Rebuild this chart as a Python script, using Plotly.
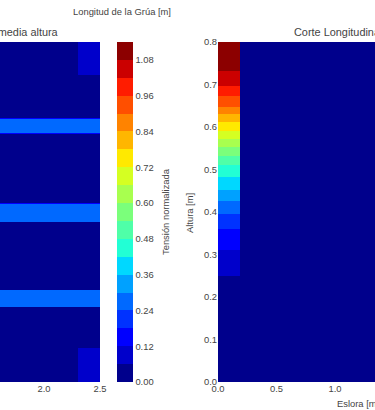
import numpy as np
import plotly.graph_objects as go

# ---------------- data ----------------
# Corte a media altura (plano eslora x manga), tramo visible
eslora_med = [1.5, 2.29, 2.30, 2.5]          # nodos en eslora [m]
refuerzo_y0 = [0.2235, 0.4735, 0.7325]        # inicio de cada franja [m]
refuerzo_y1 = [0.2705, 0.5295, 0.7765]        # fin de cada franja [m]
tension_refuerzo = 0.27
esquina_x0 = 2.295
esquina_inf_y1 = 0.10
esquina_sup_y0 = 0.905
tension_esquina = 0.09

# Corte longitudinal (eslora x altura)
eslora_long = [0.0, 0.18, 0.19, 2.5]
ancho_columna = 0.185
altura_m = [0.0, 0.249, 0.25, 0.275, 0.30, 0.325, 0.35, 0.375, 0.40, 0.425, 0.45,
            0.475, 0.50, 0.525, 0.55, 0.575, 0.60, 0.625, 0.65, 0.675, 0.70,
            0.725, 0.75, 0.775, 0.80]
tension_columna = [0.0, 0.0, 0.065, 0.082, 0.106, 0.133, 0.165, 0.202, 0.244, 0.294,
                   0.355, 0.402, 0.45, 0.512, 0.591, 0.663, 0.742, 0.821, 0.903,
                   0.965, 1.024, 1.072, 1.10, 1.11, 1.12]

# escala de color: 19 niveles de 0.06 entre 0 y 1.14
n_niveles = 19
z_min, z_max = 0.0, 1.14

# ---------------- build grids ----------------
manga = np.round(np.arange(0.0, 1.0 + 1e-9, 0.005), 4)
z_med = np.zeros((len(manga), len(eslora_med)))
for i, yv in enumerate(manga):
    for j, xv in enumerate(eslora_med):
        v = 0.0
        if xv >= esquina_x0 and (yv <= esquina_inf_y1 or yv >= esquina_sup_y0):
            v = tension_esquina
        for a, b in zip(refuerzo_y0, refuerzo_y1):
            if a <= yv <= b:
                v = tension_refuerzo
        z_med[i, j] = v

z_long = np.array([[t if xv <= ancho_columna else 0.0 for xv in eslora_long]
                   for t in tension_columna])

# matplotlib-like jet, discretised in steps
def jet(s):
    r = np.interp(s, [0, 0.35, 0.66, 0.89, 1], [0, 0, 1, 1, 0.5])
    g = np.interp(s, [0, 0.125, 0.375, 0.64, 0.91, 1], [0, 0, 1, 1, 0, 0])
    b = np.interp(s, [0, 0.11, 0.34, 0.65, 1], [0.5, 1, 1, 0, 0])
    return f"rgb({int(round(r*255))},{int(round(g*255))},{int(round(b*255))})"

jet_steps = []
for k in range(n_niveles):
    c = jet((k + 0.2) / (n_niveles - 0.6))
    jet_steps.append([k / n_niveles, c])
    jet_steps.append([(k + 1) / n_niveles, c])

W, H = 375, 410
def px(x):
    return x / W
def py(y):
    return 1 - y / H

FONT = "Liberation Sans, Arial, sans-serif"
FS = 9.4

fig = go.Figure()
fig.add_trace(go.Heatmap(
    x=eslora_med, y=manga, z=z_med, xaxis="x", yaxis="y",
    colorscale=jet_steps, zmin=z_min, zmax=z_max, zsmooth="best",
    colorbar=dict(
        x=px(117), xanchor="left", xpad=0,
        y=py(212), yanchor="middle", ypad=0,
        len=340, lenmode="pixels", thickness=15.6, thicknessmode="pixels",
        outlinewidth=0, tick0=0, dtick=0.12, tickformat=".2f", ticks="",
        tickfont=dict(size=FS, color="#444", family=FONT),
    ),
))
fig.add_trace(go.Heatmap(
    x=eslora_long, y=altura_m, z=z_long, xaxis="x2", yaxis="y2",
    colorscale=jet_steps, zmin=z_min, zmax=z_max, zsmooth="best",
    showscale=False,
))

ydom = [py(382), py(42)]
fig.update_layout(
    template="none",
    width=W, height=H,
    margin=dict(l=0, r=0, t=0, b=0),
    paper_bgcolor="white", plot_bgcolor="white",
    font=dict(family=FONT, size=FS, color="#444"),
    showlegend=False,
    xaxis=dict(domain=[0, px(100)], range=[2.5 - 100 / 112, 2.5], tick0=0,
               dtick=0.5, tickformat=".1f", showgrid=False, zeroline=False,
               automargin=False, ticks="", tickfont=dict(size=FS)),
    yaxis=dict(domain=ydom, range=[0, 1.0], visible=False, automargin=False),
    xaxis2=dict(domain=[px(218), 1], range=[0, (375 - 218) / 117], tick0=0, dtick=0.5,
                tickformat=".1f", showgrid=False, zeroline=False, automargin=False,
                ticks="", anchor="y2", tickfont=dict(size=FS)),
    yaxis2=dict(domain=ydom, range=[0, 0.8], tick0=0, dtick=0.1, tickformat=".1f",
                showgrid=False, zeroline=False, automargin=False, ticks="",
                anchor="x2", tickfont=dict(size=FS)),
)

ann = dict(xref="paper", yref="paper", showarrow=False)
fig.add_annotation(text="Longitud de la Grúa [m]", x=px(122), y=py(11),
                   xanchor="center", yanchor="middle", font=dict(size=FS), **ann)
fig.add_annotation(text="Corte a media altura", x=px(61), y=py(32),
                   xanchor="right", yanchor="middle", font=dict(size=10.9), **ann)
fig.add_annotation(text="Corte Longitudinal", x=px(292), y=py(32),
                   xanchor="left", yanchor="middle", font=dict(size=10.9), **ann)
fig.add_annotation(text="Eslora [m]", x=px(335), y=py(403),
                   xanchor="left", yanchor="middle", font=dict(size=FS), **ann)
fig.add_annotation(text="Altura [m]", x=px(189), y=py(213), textangle=-90,
                   xanchor="center", yanchor="middle", font=dict(size=FS), **ann)
fig.add_annotation(text="Tensión normalizada", x=px(165), y=py(212), textangle=-90,
                   xanchor="center", yanchor="middle", font=dict(size=FS), **ann)

# remove the default 8px body margin so the figure sits at the window corner
fig.write_html("out.html", config={"displayModeBar": False},
               post_script="document.body.style.margin='0px';")
